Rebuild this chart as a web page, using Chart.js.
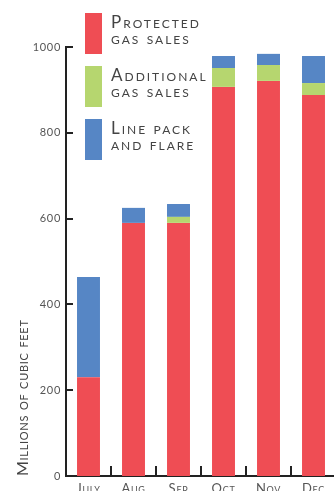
<!DOCTYPE html>
<html>
<head>
<meta charset="utf-8">
<script src="https://cdn.jsdelivr.net/npm/chart.js@4/dist/chart.umd.min.js"></script>
<style>
  html, body { margin: 0; padding: 0; background: #fff; overflow: hidden; width: 334px; height: 491px; }
  #wrap { position: absolute; left: 0; top: 0; width: 338px; height: 500px; }
  #legend { position: absolute; left: 85px; top: 13px; font-family: Lato, "Open Sans", sans-serif; color: #444; }
  .item { position: absolute; left: 0; width: 240px; }
  .sw { position: absolute; left: 0; top: 0; width: 17px; height: 41px; }
  .txt { position: absolute; left: 26px; top: 1px; font-size: 17px; line-height: 16px; font-variant: small-caps; letter-spacing: 2px; white-space: nowrap; }
</style>
</head>
<body>
<div id="wrap"><canvas id="chart" width="338" height="500"></canvas></div>
<div id="legend"></div>
<script>
// 数据
const months = ["July", "Aug", "Sep", "Oct", "Nov", "Dec"];
const protectedSales = [230, 590, 590, 907, 921, 888];
const additionalSales = [0, 0, 14, 44, 37, 28];
const linePack = [234, 35, 30, 28, 26, 63];
const yTicks = [0, 200, 400, 600, 800, 1000];

const colors = ["#ef4d54", "#b6d66f", "#5686c5"];
const names = [["Protected", "gas sales"], ["Additional", "gas sales"], ["Line pack", "and flare"]];

// 图例 (HTML)
const legend = document.getElementById("legend");
names.forEach((n, i) => {
  const d = document.createElement("div");
  d.className = "item";
  d.style.top = (i * 53) + "px";
  d.innerHTML = '<div class="sw" style="background:' + colors[i] + '"></div><div class="txt">' + n[0] + "<br>" + n[1] + "</div>";
  legend.appendChild(d);
});

// 向内的刻度线 + 字距
const innerTicks = {
  id: "innerTicks",
  beforeDraw(chart) {
    chart.ctx.letterSpacing = "0.7px";
  },
  afterDraw(chart) {
    const { ctx, chartArea, scales } = chart;
    ctx.letterSpacing = "0px";
    ctx.save();
    ctx.strokeStyle = "#222";
    ctx.lineWidth = 2;
    ctx.beginPath();
    yTicks.forEach(v => {
      if (v === 0) return;
      const y = Math.round(scales.y.getPixelForValue(v));
      ctx.moveTo(chartArea.left, y);
      ctx.lineTo(chartArea.left + 7, y);
    });
    for (let i = 1; i < months.length; i++) {
      const x = Math.round((scales.x.getPixelForTick(i - 1) + scales.x.getPixelForTick(i)) / 2);
      ctx.moveTo(x, chartArea.bottom);
      ctx.lineTo(x, chartArea.bottom - 10);
    }
    ctx.stroke();
    ctx.restore();
  }
};

new Chart(document.getElementById("chart"), {
  type: "bar",
  data: {
    labels: months,
    datasets: [
      { label: "Protected gas sales", data: protectedSales, backgroundColor: colors[0] },
      { label: "Additional gas sales", data: additionalSales, backgroundColor: colors[1] },
      { label: "Line pack and flare", data: linePack, backgroundColor: colors[2] }
    ]
  },
  options: {
    responsive: false,
    animation: false,
    layout: { padding: { top: 47, right: 2 } },
    datasets: { bar: { categoryPercentage: 1, barPercentage: 0.51 } },
    plugins: { legend: { display: false }, tooltip: { enabled: false } },
    scales: {
      x: {
        stacked: true,
        grid: { display: false, drawTicks: false },
        border: { color: "#222", width: 2 },
        ticks: { color: "#555", font: { family: "Lato", size: 13, weight: "small-caps" }, padding: 5 },
        afterFit(scale) { scale.height = 24; }
      },
      y: {
        stacked: true,
        min: 0,
        max: 1000,
        afterBuildTicks(scale) { scale.ticks = yTicks.map(v => ({ value: v })); },
        grid: { display: false, drawTicks: false },
        border: { color: "#222", width: 2 },
        ticks: { color: "#555", font: { family: "Lato", size: 11 }, padding: 5, callback: v => String(v) },
        title: {
          display: true,
          text: "Millions of cubic feet",
          align: "start",
          color: "#444",
          font: { family: "Lato", size: 16, weight: "small-caps" },
          padding: { top: 13, bottom: 0 }
        },
        afterFit(scale) { scale.width = 66; }
      }
    }
  },
  plugins: [innerTicks]
});
</script>
</body>
</html>
